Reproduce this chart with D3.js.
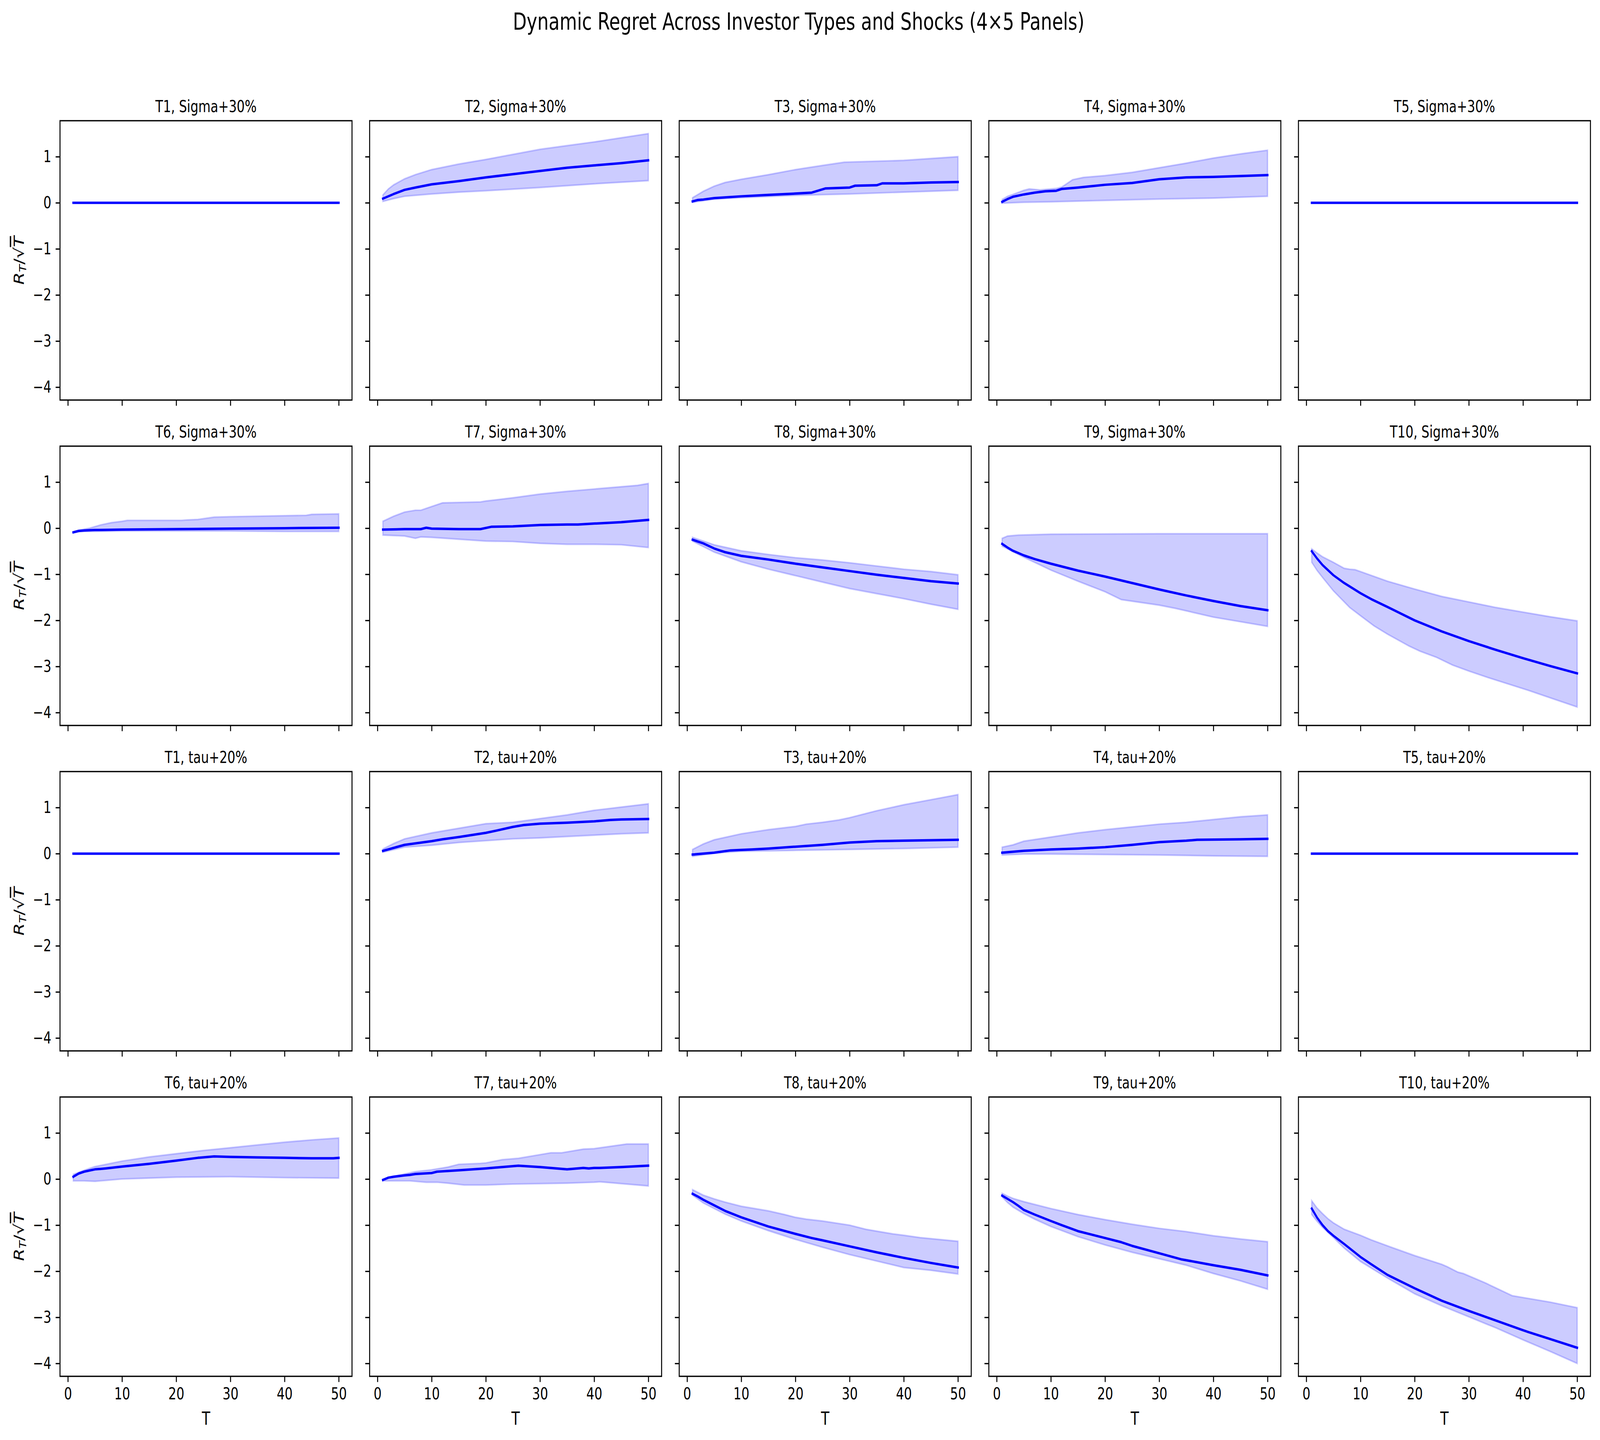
<!DOCTYPE html>
<html>
<head>
<meta charset="utf-8">
<script src="https://cdn.jsdelivr.net/npm/d3@7"></script>
<style>
  html, body { margin: 0; padding: 0; background: #fff; overflow: hidden; }
  #fig { display: block; width: 100vw; height: 100vh; }
  text { font-family: "DejaVu Sans", sans-serif; }
</style>
</head>
<body>
<svg id="fig"></svg>
<script>
// investor types and shocks
var types = ["T1", "T2", "T3", "T4", "T5", "T6", "T7", "T8", "T9", "T10"];
var shocks = ["Sigma+30%", "tau+20%"];
var xTicks = [0, 10, 20, 30, 40, 50];
var yTicks = [-4, -3, -2, -1, 0, 1];

// [T, value] pairs
var flat = [[1, 0], [50, 0]];

var sigmaMean = [
  flat,
  [[1,0.09],[3,0.19],[5,0.28],[7,0.33],[10,0.40],[15,0.47],[20,0.55],[25,0.62],[30,0.69],[35,0.76],[40,0.81],[45,0.86],[50,0.92]],
  [[1,0.03],[2,0.06],[3,0.07],[5,0.10],[10,0.14],[15,0.17],[20,0.20],[23,0.22],[25.5,0.31],[30,0.33],[31,0.37],[35,0.38],[36,0.42],[40,0.42],[45,0.44],[50,0.45]],
  [[1,0.02],[2,0.08],[3,0.13],[5,0.18],[7,0.22],[9,0.25],[11,0.26],[12,0.30],[15,0.33],[20,0.39],[25,0.43],[30,0.51],[35,0.55],[40,0.56],[45,0.58],[50,0.60]],
  flat,
  [[1,-0.09],[2,-0.06],[3,-0.05],[5,-0.04],[10,-0.03],[20,-0.02],[30,-0.01],[40,0.0],[50,0.01]],
  [[1,-0.03],[5,-0.02],[8,-0.02],[9,0.01],[10,-0.01],[15,-0.02],[19,-0.02],[21,0.03],[25,0.04],[30,0.07],[35,0.08],[37,0.08],[40,0.10],[45,0.13],[50,0.18]],
  [[1,-0.25],[3,-0.33],[5,-0.44],[7,-0.52],[10,-0.60],[15,-0.68],[20,-0.77],[25,-0.85],[30,-0.93],[35,-1.01],[40,-1.08],[45,-1.15],[50,-1.20]],
  [[1,-0.34],[2,-0.42],[3,-0.49],[5,-0.59],[7,-0.67],[10,-0.77],[15,-0.92],[20,-1.05],[25,-1.19],[30,-1.33],[35,-1.46],[40,-1.58],[45,-1.69],[50,-1.78]],
  [[1,-0.50],[2,-0.66],[3,-0.80],[5,-1.02],[7,-1.19],[10,-1.41],[12,-1.54],[15,-1.71],[20,-2.00],[25,-2.24],[30,-2.45],[35,-2.64],[40,-2.82],[45,-2.99],[50,-3.15]]
];
var sigmaLower = [
  flat,
  [[1,0.03],[3,0.09],[5,0.14],[10,0.19],[15,0.23],[20,0.26],[30,0.33],[40,0.41],[50,0.48]],
  [[1,0.01],[5,0.08],[10,0.11],[20,0.16],[30,0.19],[40,0.23],[50,0.27]],
  [[1,-0.01],[5,0.01],[10,0.02],[20,0.05],[30,0.08],[40,0.10],[50,0.14]],
  flat,
  [[1,-0.10],[2,-0.07],[5,-0.07],[10,-0.06],[20,-0.06],[30,-0.06],[40,-0.07],[50,-0.07]],
  [[1,-0.15],[5,-0.17],[7,-0.22],[8,-0.19],[10,-0.20],[15,-0.24],[20,-0.28],[25,-0.29],[30,-0.33],[35,-0.35],[40,-0.35],[45,-0.36],[50,-0.42]],
  [[1,-0.28],[5,-0.52],[10,-0.73],[15,-0.89],[20,-1.03],[25,-1.17],[30,-1.31],[35,-1.42],[40,-1.53],[45,-1.65],[50,-1.76]],
  [[1,-0.39],[5,-0.63],[10,-0.91],[15,-1.15],[20,-1.38],[23,-1.55],[30,-1.67],[33,-1.74],[40,-1.93],[45,-2.03],[50,-2.13]],
  [[1,-0.74],[2,-0.92],[3,-1.07],[5,-1.36],[8,-1.72],[10,-1.90],[12.5,-2.12],[15,-2.30],[19,-2.56],[21,-2.67],[24,-2.80],[27,-2.97],[30,-3.10],[33.5,-3.24],[41,-3.52],[50,-3.88]]
];
var sigmaUpper = [
  flat,
  [[1,0.17],[2,0.30],[3,0.39],[5,0.52],[7,0.61],[10,0.72],[15,0.84],[20,0.94],[25,1.05],[30,1.16],[35,1.24],[40,1.32],[45,1.41],[50,1.50]],
  [[1,0.11],[3,0.25],[5,0.36],[7,0.44],[10,0.51],[15,0.61],[20,0.72],[25,0.81],[29,0.88],[40,0.92],[50,1.00]],
  [[1,0.07],[2,0.14],[3,0.18],[5,0.27],[6,0.30],[8,0.28],[11,0.31],[12,0.34],[14,0.50],[16,0.55],[20,0.59],[25,0.66],[30,0.76],[35,0.86],[40,0.97],[45,1.06],[50,1.14]],
  flat,
  [[1,-0.08],[2,-0.04],[4,0.0],[6,0.07],[8,0.12],[10,0.15],[11,0.17],[21,0.17],[22,0.18],[24,0.19],[27,0.24],[30,0.25],[44,0.28],[45,0.30],[50,0.31]],
  [[1,0.15],[3,0.26],[5,0.35],[7,0.39],[8,0.39],[10,0.47],[12,0.55],[19,0.57],[20,0.59],[25,0.66],[30,0.74],[35,0.80],[40,0.85],[45,0.90],[48,0.93],[50,0.97]],
  [[1,-0.20],[5,-0.36],[10,-0.49],[15,-0.57],[20,-0.64],[25,-0.69],[30,-0.75],[35,-0.82],[40,-0.89],[45,-0.94],[50,-1.01]],
  [[1,-0.22],[2,-0.17],[4,-0.15],[10,-0.13],[30,-0.12],[50,-0.12]],
  [[1,-0.45],[2,-0.54],[3,-0.62],[5,-0.74],[7,-0.87],[8,-0.89],[9,-0.90],[10,-0.94],[15,-1.15],[20,-1.32],[25,-1.48],[30,-1.60],[35,-1.72],[40,-1.82],[45,-1.92],[50,-2.01]]
];

var tauMean = [
  flat,
  [[1,0.06],[5,0.19],[10,0.27],[12,0.31],[15,0.36],[20,0.45],[22,0.50],[25,0.58],[27,0.62],[30,0.65],[35,0.67],[40,0.70],[43,0.73],[45,0.74],[50,0.75]],
  [[1,-0.02],[5,0.02],[8,0.07],[10,0.08],[12,0.09],[15,0.11],[20,0.15],[25,0.19],[30,0.24],[35,0.27],[40,0.28],[50,0.30]],
  [[1,0.02],[5,0.06],[10,0.09],[15,0.11],[20,0.14],[25,0.19],[30,0.25],[35,0.28],[37,0.30],[45,0.31],[50,0.32]],
  flat,
  [[1,0.05],[2,0.12],[3,0.16],[5,0.21],[7,0.23],[10,0.27],[15,0.33],[20,0.40],[24,0.46],[27,0.49],[30,0.48],[35,0.47],[40,0.46],[45,0.45],[49,0.45],[50,0.46]],
  [[1,-0.02],[2,0.03],[3,0.05],[5,0.08],[6,0.09],[7,0.11],[10,0.13],[11,0.16],[15,0.19],[20,0.23],[26,0.29],[30,0.26],[35,0.21],[38,0.24],[39,0.23],[40,0.24],[41,0.24],[45,0.26],[50,0.29]],
  [[1,-0.32],[2,-0.38],[3,-0.45],[5,-0.57],[7,-0.69],[10,-0.83],[15,-1.03],[20,-1.19],[23,-1.28],[25,-1.33],[30,-1.46],[35,-1.59],[40,-1.71],[45,-1.82],[50,-1.92]],
  [[1,-0.36],[2,-0.43],[3,-0.50],[4,-0.58],[5,-0.67],[7,-0.77],[10,-0.91],[12,-1.00],[15,-1.13],[20,-1.28],[23,-1.37],[25,-1.45],[30,-1.61],[34,-1.74],[40,-1.87],[45,-1.97],[50,-2.09]],
  [[1,-0.64],[2,-0.84],[3,-1.00],[4,-1.13],[5,-1.23],[7,-1.41],[10,-1.69],[12,-1.85],[15,-2.08],[20,-2.37],[25,-2.64],[30,-2.86],[35,-3.07],[40,-3.28],[41,-3.32],[45,-3.47],[50,-3.66]]
];
var tauLower = [
  flat,
  [[1,0.03],[5,0.14],[10,0.18],[15,0.24],[20,0.28],[25,0.32],[30,0.34],[35,0.37],[40,0.40],[45,0.43],[50,0.45]],
  [[1,-0.06],[5,0.01],[10,0.05],[20,0.07],[30,0.09],[40,0.11],[50,0.14]],
  [[1,-0.03],[5,-0.01],[10,-0.01],[20,-0.02],[30,-0.03],[40,-0.05],[50,-0.06]],
  flat,
  [[1,-0.04],[3,-0.04],[5,-0.05],[7,-0.03],[10,0.0],[15,0.02],[20,0.04],[30,0.05],[40,0.03],[50,0.02]],
  [[1,-0.04],[6,-0.04],[9,-0.07],[11,-0.07],[13,-0.09],[16,-0.13],[20,-0.13],[25,-0.11],[30,-0.10],[35,-0.09],[40,-0.07],[41,-0.06],[43,-0.08],[45,-0.10],[50,-0.15]],
  [[1,-0.35],[3,-0.52],[5,-0.64],[7,-0.76],[10,-0.91],[15,-1.12],[20,-1.31],[25,-1.48],[30,-1.64],[35,-1.78],[40,-1.92],[45,-1.98],[50,-2.06]],
  [[1,-0.39],[2,-0.51],[3,-0.61],[5,-0.75],[7,-0.87],[10,-1.03],[15,-1.25],[20,-1.43],[25,-1.59],[30,-1.73],[35,-1.87],[40,-2.05],[45,-2.21],[50,-2.39]],
  [[1,-0.77],[2,-0.92],[3,-1.05],[5,-1.27],[7,-1.50],[10,-1.79],[15,-2.15],[20,-2.49],[25,-2.75],[30,-2.99],[35,-3.23],[40,-3.49],[45,-3.74],[50,-4.00]]
];
var tauUpper = [
  flat,
  [[1,0.10],[3,0.22],[5,0.32],[10,0.45],[15,0.55],[20,0.65],[25,0.68],[30,0.76],[35,0.84],[40,0.94],[45,1.01],[50,1.08]],
  [[1,0.09],[3,0.21],[5,0.30],[10,0.43],[15,0.52],[20,0.59],[22,0.64],[25,0.68],[28,0.73],[30,0.78],[35,0.93],[40,1.06],[45,1.17],[50,1.28]],
  [[1,0.14],[3,0.19],[5,0.27],[10,0.36],[15,0.45],[20,0.52],[25,0.58],[30,0.64],[35,0.68],[40,0.74],[45,0.80],[50,0.84]],
  flat,
  [[1,0.10],[3,0.19],[5,0.27],[10,0.39],[15,0.48],[20,0.55],[25,0.62],[30,0.68],[35,0.74],[40,0.80],[45,0.85],[50,0.89]],
  [[1,0.0],[3,0.06],[5,0.11],[7,0.16],[10,0.20],[13,0.26],[15,0.32],[19,0.34],[20,0.35],[23,0.42],[26,0.45],[30,0.53],[32,0.57],[34,0.57],[38,0.65],[40,0.66],[46,0.76],[50,0.76]],
  [[1,-0.23],[3,-0.35],[5,-0.43],[7,-0.50],[10,-0.59],[15,-0.69],[18,-0.77],[20,-0.83],[22,-0.87],[25,-0.91],[30,-1.00],[33,-1.09],[35,-1.13],[38,-1.19],[40,-1.22],[43,-1.27],[50,-1.35]],
  [[1,-0.31],[2,-0.37],[3,-0.42],[5,-0.49],[7,-0.55],[10,-0.64],[15,-0.77],[20,-0.88],[25,-0.98],[30,-1.07],[35,-1.14],[40,-1.23],[45,-1.30],[50,-1.36]],
  [[1,-0.47],[2,-0.63],[3,-0.75],[4,-0.86],[5,-0.95],[7,-1.09],[10,-1.22],[12,-1.32],[15,-1.45],[20,-1.66],[25,-1.85],[26,-1.90],[28,-2.02],[29,-2.05],[33,-2.25],[38,-2.53],[40,-2.57],[45,-2.67],[50,-2.79]]
];

var width = 5359, height = 3686;
var left0 = 201, top0 = 309;       // first panel corner
var pw = 978, ph = 715;            // panel size
var colStep = 1037, rowStep = 833;
var lw = 3.33;                     // spine / tick width

// draw in figure pixels, stretch to fill the window
var svg = d3.select("#fig")
  .attr("viewBox", "0 0 " + width + " " + height)
  .attr("preserveAspectRatio", "none");
svg.append("rect").attr("width", width).attr("height", height).attr("fill", "#fff");

var x = d3.scaleLinear().domain([-1.45, 52.45]).range([0, pw]);
var y = d3.scaleLinear().domain([-4.28, 1.78]).range([ph, 0]);
var line = d3.line().x(function(d) { return x(d[0]); }).y(function(d) { return y(d[1]); });

var means = [sigmaMean, tauMean], lowers = [sigmaLower, tauLower], uppers = [sigmaUpper, tauUpper];

for (var row = 0; row < 4; row++) {
  for (var col = 0; col < 5; col++) {
    var s = Math.floor(row / 2);
    var t = (row % 2) * 5 + col;
    var g = svg.append("g")
      .attr("transform", "translate(" + (left0 + col * colStep) + "," + (top0 + row * rowStep) + ")");

    // band: upper forwards, lower backwards
    var band = uppers[s][t].concat(lowers[s][t].slice().reverse());
    g.append("path")
      .attr("d", line(band) + "Z")
      .attr("fill", "blue").attr("fill-opacity", 0.2)
      .attr("stroke", "blue").attr("stroke-opacity", 0.2).attr("stroke-width", 4.2);

    g.append("path")
      .attr("d", line(means[s][t]))
      .attr("fill", "none").attr("stroke", "blue")
      .attr("stroke-width", 6.25).attr("stroke-linejoin", "round").attr("stroke-linecap", "square");

    // axes
    var gx = g.append("g").attr("transform", "translate(0," + ph + ")")
      .call(d3.axisBottom(x).tickValues(xTicks).tickSize(14.6).tickPadding(14.6)
        .tickFormat(row === 3 ? d3.format("d") : ""));
    var gy = g.append("g")
      .call(d3.axisLeft(y).tickValues(yTicks).tickSize(14.6).tickPadding(14.6)
        .tickFormat(col === 0 ? d3.format("d") : ""));
    [gx, gy].forEach(function(a) {
      a.select(".domain").remove();
      a.attr("font-size", 42).attr("font-family", "DejaVu Sans");
      a.selectAll("line").attr("stroke-width", lw);
      a.selectAll("text").attr("fill", "#000");
    });

    g.append("rect").attr("width", pw).attr("height", ph)
      .attr("fill", "none").attr("stroke", "#000").attr("stroke-width", lw);

    g.append("text")
      .attr("x", pw / 2).attr("y", -22)
      .attr("text-anchor", "middle").attr("font-size", 42)
      .text(types[t] + ", " + shocks[s]);

    if (row === 3) {
      g.append("text")
        .attr("x", pw / 2).attr("y", ph + 124)
        .attr("text-anchor", "middle").attr("font-size", 46)
        .text("T");
    }

    if (col === 0) {
      var yl = g.append("text")
        .attr("transform", "translate(-121," + (ph / 2) + ") rotate(-90)")
        .attr("text-anchor", "middle").attr("font-size", 46);
      yl.append("tspan").attr("font-style", "italic").text("R");
      yl.append("tspan").attr("font-style", "italic").attr("font-size", 32).attr("dy", 8).text("T");
      yl.append("tspan").attr("dy", -8).text("/");
      yl.append("tspan").text("\u221A");
      yl.append("tspan").attr("font-style", "italic").style("text-decoration", "overline").text("T");
    }
  }
}

svg.append("text")
  .attr("x", 2675).attr("y", 76)
  .attr("text-anchor", "middle").attr("font-size", 60)
  .text("Dynamic Regret Across Investor Types and Shocks (4\u00D75 Panels)");
</script>
</body>
</html>
